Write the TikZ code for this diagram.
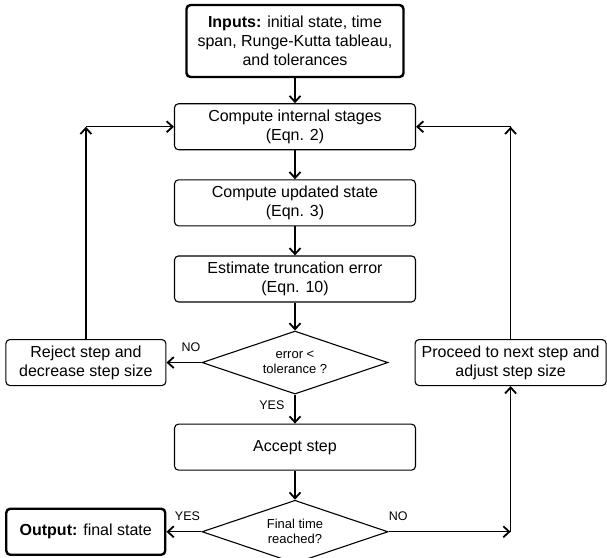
\documentclass[tikz,border=0pt]{standalone}
\usepackage{fontspec}
\setmainfont{Liberation Sans}
\usetikzlibrary{arrows.meta,positioning,shapes.geometric}

\begin{document}
\begin{tikzpicture}[->,>={Straight Barb[length=6pt,width=11pt,line width=1.8pt]},line width=1.3pt,
                    node distance=29pt, font=\fontsize{16}{19}\selectfont]

  \tikzstyle{box} = [draw, rounded corners=4pt, line width=1.1pt, align=center,
                     minimum width=241pt, minimum height=46pt, inner sep=2pt]
  \tikzstyle{bigbox} = [box, line width=2.4pt]
  \tikzstyle{decision} = [draw, diamond, line width=1.1pt, aspect=2.95, inner sep=0pt,
                          minimum width=186pt, minimum height=63pt, align=center,
                          font=\fontsize{13}{15}\selectfont]
  \tikzstyle{answer} = [font=\fontsize{12.5}{14}\selectfont, inner sep=2pt]

  \useasboundingbox (0,0) rectangle (607pt,-557pt);

  \node[bigbox, minimum width=217pt, minimum height=72pt] (inputs) at (295pt,-41pt)
        {\textbf{Inputs:} initial state, time\\span, Runge-Kutta tableau,\\and tolerances};
  \node[box]      (stages)   [below=25pt of inputs]   {Compute internal stages\\(Eqn. 2)};
  \node[box]      (update)   [below=29pt of stages]   {Compute updated state\\(Eqn. 3)};
  \node[box]      (estimate) [below=29pt of update]   {Estimate truncation error\\(Eqn. 10)};
  \node[decision] (dec1)     [below=28pt of estimate] {error <\\tolerance ?};
  \node[box]      (accept)   [below=of dec1]          {Accept step};
  \node[decision] (dec2)     [below=of accept]        {Final time\\reached?};
  \node[box, minimum width=160pt] (reject)  [left=35pt of dec1]  {Reject step and\\decrease step size};
  \node[box, minimum width=191pt] (proceed) [right=26pt of dec1] {Proceed to next step and\\adjust step size};
  \node[bigbox, minimum width=159pt] (output) [left=35pt of dec2] {\textbf{Output:} final state};

  \coordinate (cl) at (reject |- stages);
  \coordinate (cr) at (proceed |- stages);
  \coordinate (cb) at (proceed |- dec2);

  \path (inputs)   edge (stages)
        (stages)   edge (update)
        (update)   edge (estimate)
        (estimate) edge (dec1)
        (dec1)     edge node[answer, above=8pt, pos=.3]  {NO}  (reject)
        (dec1)     edge node[answer, left=8pt, pos=.38]  {YES} (accept)
        (reject)   edge (cl)
        (cl)       edge (stages)
        (accept)   edge (dec2)
        (dec2)     edge node[answer, above=8pt, pos=.4]  {YES} (output)
        (dec2)     edge node[answer, above=8pt, pos=.08] {NO}  (cb)
        (cb)       edge (proceed)
        (proceed)  edge (cr)
        (cr)       edge (stages);

\end{tikzpicture}
\end{document}
